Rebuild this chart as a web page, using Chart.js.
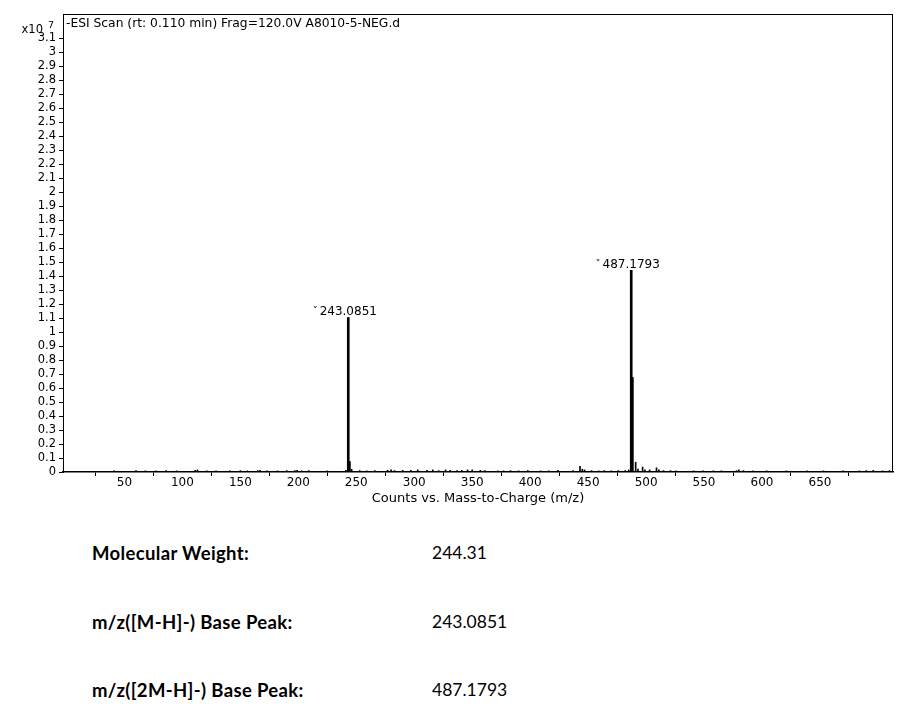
<!DOCTYPE html>
<html>
<head>
<meta charset="utf-8">
<script src="https://cdn.jsdelivr.net/npm/chart.js@4.4.1/dist/chart.umd.min.js"></script>
<style>
  body { margin: 0; background: #fff; }
  #wrap { position: relative; width: 903px; height: 720px; overflow: hidden; }
  #chartBox { position: absolute; left: 0; top: 0; width: 903px; height: 515px; }
  .info { position: absolute; font-family: Lato, "Noto Sans", sans-serif; font-size: 17.5px; line-height: 20px; color: #000; white-space: nowrap; }
  .info.lbl { left: 92px; font-weight: bold; font-size: 18.5px; letter-spacing: 0.35px; }
  .info.val { left: 432px; }
</style>
</head>
<body>
<div id="wrap">
  <div id="chartBox"><canvas id="msChart"></canvas></div>
  <div class="info lbl" style="top:543px">Molecular Weight:</div>
  <div class="info val" style="top:543px">244.31</div>
  <div class="info lbl" style="top:612px">m/z([M-H]-) Base Peak:</div>
  <div class="info val" style="top:612px">243.0851</div>
  <div class="info lbl" style="top:680px">m/z([2M-H]-) Base Peak:</div>
  <div class="info val" style="top:680px">487.1793</div>
</div>
<script>
const scanTitle = "-ESI Scan (rt: 0.110 min) Frag=120.0V A8010-5-NEG.d";

// main peaks, counts in units of 10^7
const peakMz = [243.0851, 244.09, 487.1793, 488.18];
const peakCounts = [1.105, 0.075, 1.442, 0.676];

// small baseline peaks
const noiseMz = [41, 60, 68, 77, 86, 95, 111, 113, 121, 129, 141, 150, 156, 165, 167, 173, 182, 190, 197, 199,
  203, 209, 225, 241, 246, 253, 259, 266, 277, 280, 283, 290, 297, 303, 311, 316, 321, 327, 331, 337,
  341, 346, 350, 357, 361, 372, 377, 383, 390, 398, 409, 416, 424, 437, 443, 445, 447, 453, 459, 464,
  470, 476, 482, 485, 491, 493, 497, 499, 503, 509, 511, 515, 521, 526, 541, 549, 558, 565, 578, 580,
  584, 592, 604, 621, 639, 653, 670, 684, 690, 696, 704, 710];
const noiseCounts = [0.008, 0.01, 0.008, 0.008, 0.01, 0.008, 0.012, 0.015, 0.008, 0.008, 0.008, 0.01, 0.008, 0.01, 0.012, 0.008, 0.008, 0.01, 0.01, 0.012,
  0.008, 0.01, 0.008, 0.012, 0.02, 0.01, 0.008, 0.01, 0.012, 0.015, 0.01, 0.012, 0.012, 0.015, 0.012, 0.015, 0.01, 0.015, 0.012, 0.01,
  0.012, 0.015, 0.015, 0.012, 0.01, 0.008, 0.008, 0.01, 0.008, 0.01, 0.008, 0.008, 0.012, 0.01, 0.04, 0.02, 0.015, 0.01, 0.008, 0.01,
  0.008, 0.01, 0.01, 0.015, 0.07, 0.02, 0.035, 0.015, 0.015, 0.03, 0.015, 0.01, 0.01, 0.008, 0.008, 0.008, 0.008, 0.008, 0.01, 0.015,
  0.01, 0.008, 0.008, 0.008, 0.008, 0.008, 0.008, 0.008, 0.01, 0.012, 0.008, 0.01];

const labelMz = [243.0851, 487.1793];
const labelCounts = [1.105, 1.442];
const labelText = ["243.0851", "487.1793"];

const xTicks = [50, 100, 150, 200, 250, 300, 350, 400, 450, 500, 550, 600, 650, 700];
const xTickLabels = ["50", "100", "150", "200", "250", "300", "350", "400", "450", "500", "550", "600", "650", ""];
const yTicks = [0, 0.1, 0.2, 0.3, 0.4, 0.5, 0.6, 0.7, 0.8, 0.9, 1, 1.1, 1.2, 1.3, 1.4, 1.5, 1.6, 1.7, 1.8, 1.9,
  2, 2.1, 2.2, 2.3, 2.4, 2.5, 2.6, 2.7, 2.8, 2.9, 3, 3.1];
const yTickLabels = ["0", "0.1", "0.2", "0.3", "0.4", "0.5", "0.6", "0.7", "0.8", "0.9", "1", "1.1", "1.2", "1.3", "1.4", "1.5", "1.6", "1.7", "1.8", "1.9",
  "2", "2.1", "2.2", "2.3", "2.4", "2.5", "2.6", "2.7", "2.8", "2.9", "3", "3.1"];

const axisFont = { family: "'DejaVu Sans', sans-serif", size: 11.5 };

const decorations = {
  id: "decorations",
  afterDraw(chart) {
    const { ctx, chartArea: a, scales: { x, y } } = chart;
    ctx.save();
    ctx.strokeStyle = "#000";
    ctx.lineWidth = 1;
    ctx.strokeRect(a.left + 0.5, a.top + 0.5, a.width - 1, a.height - 1);

    ctx.fillStyle = "#000";
    ctx.font = "12.3px 'DejaVu Sans'";
    ctx.textBaseline = "middle";
    ctx.textAlign = "left";
    ctx.fillText(scanTitle, a.left + 3, a.top + 10);

    // exponent of the y axis
    ctx.font = "11.5px 'DejaVu Sans'";
    ctx.textAlign = "right";
    ctx.fillText("x10", 43, 30);
    ctx.font = "9.5px 'DejaVu Sans'";
    ctx.textAlign = "left";
    ctx.fillText("7", 48, 26);

    // peak labels
    ctx.font = "12px 'DejaVu Sans'";
    ctx.textBaseline = "alphabetic";
    labelMz.forEach((m, i) => {
      const px = x.getPixelForValue(m);
      const py = y.getPixelForValue(labelCounts[i]);
      ctx.textAlign = "center";
      ctx.fillText(labelText[i], px, py - 2);
      const w = ctx.measureText(labelText[i]).width;
      ctx.textAlign = "right";
      ctx.font = "10px 'DejaVu Sans'";
      ctx.fillText("ˇ", px - w / 2 - 2, py - 2);
      ctx.font = "12px 'DejaVu Sans'";
    });
    ctx.restore();
  }
};

new Chart(document.getElementById("msChart"), {
  type: "bar",
  data: {
    datasets: [{
      data: peakMz.map((m, i) => ({ x: m, y: peakCounts[i] })),
      backgroundColor: "#000",
      barThickness: 2,
      grouped: false
    }, {
      data: noiseMz.map((m, i) => ({ x: m, y: noiseCounts[i] })),
      backgroundColor: "#000",
      barThickness: 1,
      grouped: false
    }]
  },
  options: {
    responsive: true,
    maintainAspectRatio: false,
    animation: false,
    layout: { padding: { left: 0, top: 14, right: 10, bottom: 0 } },
    plugins: {
      legend: { display: false },
      tooltip: { enabled: false }
    },
    scales: {
      x: {
        type: "linear",
        min: -3,
        max: 713,
        offset: false,
        afterBuildTicks: scale => { scale.ticks = xTicks.map(v => ({ value: v })); },
        afterFit: scale => { scale.height = 43; },
        grid: { drawOnChartArea: false, drawTicks: true, tickLength: 4, color: "#000" },
        border: { display: true, color: "#000", width: 1.5 },
        ticks: {
          color: "#000",
          font: { family: "'DejaVu Sans', sans-serif", size: 12 },
          padding: 0,
          maxRotation: 0,
          autoSkip: false,
          callback: (v, i) => xTickLabels[i]
        },
        title: {
          display: true,
          text: "Counts vs. Mass-to-Charge (m/z)",
          color: "#000",
          font: { family: "'DejaVu Sans', sans-serif", size: 13 },
          padding: { top: 0, bottom: 9 }
        }
      },
      y: {
        min: 0,
        max: 3.275,
        afterBuildTicks: scale => { scale.ticks = yTicks.map(v => ({ value: v })); },
        afterFit: scale => { scale.width = 63; },
        grid: { drawOnChartArea: false, drawTicks: true, tickLength: 4, color: "#000" },
        border: { display: true, color: "#000", width: 1 },
        ticks: {
          color: "#000",
          font: axisFont,
          padding: 3,
          autoSkip: false,
          callback: (v, i) => yTickLabels[i]
        }
      }
    }
  },
  plugins: [decorations]
});
</script>
</body>
</html>
